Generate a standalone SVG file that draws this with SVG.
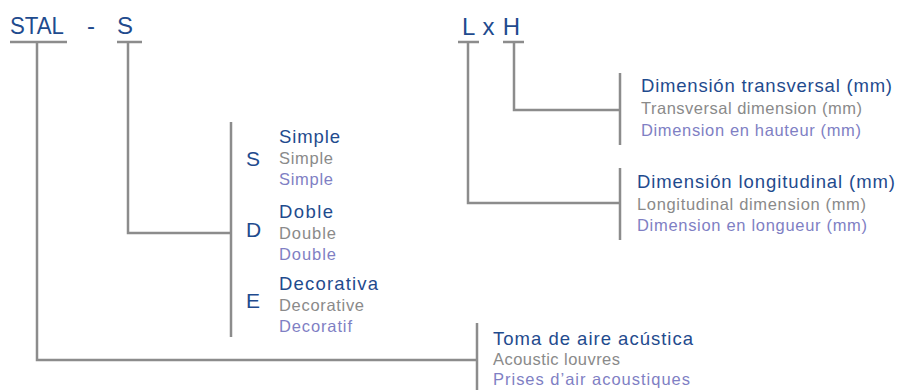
<svg xmlns="http://www.w3.org/2000/svg" width="900" height="390" viewBox="0 0 900 390">
<style>
text{font-family:"Liberation Sans","Open Sans",sans-serif;}
.code{fill:#1f4b8e;font-size:24px;}
.t1{fill:#1f4b8e;font-size:18.5px;}
.t2{fill:#8a8a8a;font-size:16.5px;}
.t3{fill:#7f7fc4;font-size:16.5px;}
.k{fill:#1f4b8e;font-size:21px;}
.ln{fill:none;stroke:#8c8c8c;stroke-width:2.5;}
</style>
<rect width="900" height="390" fill="#fff"/>
<g id="code">
<text class="code" x="10" y="34" textLength="54" lengthAdjust="spacingAndGlyphs">STAL</text>
<text class="code" x="87" y="34">-</text>
<text class="code" x="117" y="34" textLength="16" lengthAdjust="spacingAndGlyphs">S</text>
<text class="code" x="462" y="35" textLength="58">L x H</text>
</g>
<g id="connectors" class="ln">
<path d="M10 42H67M117 42H142M458 42H479M503 42H524"/>
<path d="M37 42V360H477"/>
<path d="M128 42V233H231"/>
<path d="M468 42V203H620"/>
<path d="M514 42V110H620"/>
<path d="M231 122V337M620 73V145M620 168V240M477 323V390"/>
</g>
<g id="node-type">
<text class="k" x="246" y="166">S</text>
<text class="t1" x="279" y="143" textLength="61">Simple</text>
<text class="t2" x="279" y="164" textLength="54">Simple</text>
<text class="t3" x="279" y="185" textLength="54">Simple</text>
<text class="k" x="246" y="237">D</text>
<text class="t1" x="279" y="218" textLength="54">Doble</text>
<text class="t2" x="279" y="239" textLength="57">Double</text>
<text class="t3" x="279" y="260" textLength="57">Double</text>
<text class="k" x="246" y="308">E</text>
<text class="t1" x="279" y="290" textLength="99">Decorativa</text>
<text class="t2" x="279" y="311" textLength="85">Decorative</text>
<text class="t3" x="279" y="332" textLength="73">Decoratif</text>
</g>
<g id="node-h">
<text class="t1" x="641" y="92" textLength="251">Dimensión transversal (mm)</text>
<text class="t2" x="641" y="114" textLength="221">Transversal dimension (mm)</text>
<text class="t3" x="641" y="136" textLength="220">Dimension en hauteur (mm)</text>
</g>
<g id="node-l">
<text class="t1" x="637" y="188" textLength="258">Dimensión longitudinal (mm)</text>
<text class="t2" x="637" y="210" textLength="229">Longitudinal dimension (mm)</text>
<text class="t3" x="637" y="231" textLength="230">Dimension en longueur (mm)</text>
</g>
<g id="node-stal">
<text class="t1" x="493" y="345" textLength="200">Toma de aire acústica</text>
<text class="t2" x="493" y="365" textLength="127">Acoustic louvres</text>
<text class="t3" x="493" y="385" textLength="197">Prises d’air acoustiques</text>
</g>
</svg>
